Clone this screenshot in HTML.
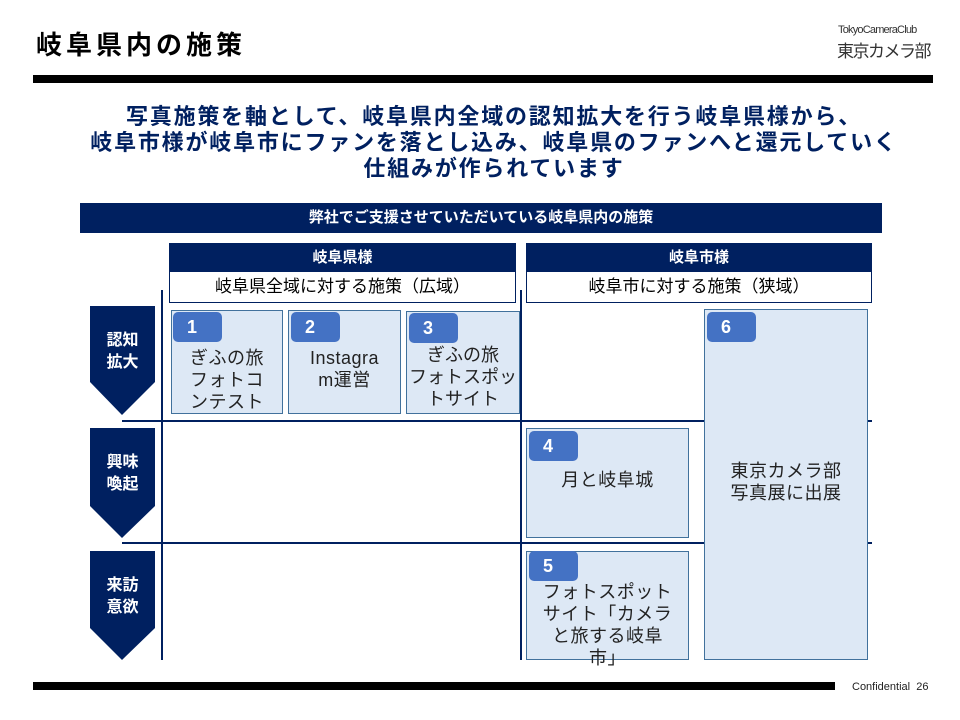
<!DOCTYPE html>
<html><head><meta charset="utf-8"><style>
body{margin:0;width:960px;height:720px;position:relative;background:#fff;font-family:"Liberation Sans","Noto Sans CJK JP",sans-serif;overflow:hidden}
div{position:absolute;box-sizing:border-box}
.nv{background:#002060;color:#fff;font-weight:bold;text-align:center}
.bx{background:#dde8f5;border:1.5px solid #41719c;text-align:center;font-size:18px;color:#222;line-height:22px;letter-spacing:0.5px}
.bd{background:#4472c4;border-radius:5px;color:#fff;font-weight:bold;font-size:18px;width:49px;height:30px;line-height:30px;padding-left:14px;text-align:left}
.ln{background:#002060}
</style></head><body>
<div style="left:36px;top:25px;font-size:26px;font-weight:bold;color:#000;letter-spacing:4px">岐阜県内の施策</div>
<div style="left:838px;top:24px;font-size:11px;color:#333;letter-spacing:-0.8px">TokyoCameraClub</div>
<div style="left:837px;top:37px;font-size:17px;color:#333;letter-spacing:-1.5px">東京カメラ部</div>
<div style="left:33px;top:75px;width:900px;height:8px;background:#000"></div>
<div style="left:0;top:104px;width:988px;text-align:center;font-size:22px;font-weight:bold;color:#002060;line-height:26px;letter-spacing:1.8px">写真施策を軸として、岐阜県内全域の認知拡大を行う岐阜県様から、<br>岐阜市様が岐阜市にファンを落とし込み、岐阜県のファンへと還元していく<br>仕組みが作られています</div>
<div class="nv" style="left:80px;top:203px;width:802px;height:30px;line-height:30px;font-size:15px">弊社でご支援させていただいている岐阜県内の施策</div>
<div class="nv" style="left:169px;top:243px;width:347px;height:29px;line-height:29px;font-size:15px">岐阜県様</div>
<div style="left:169px;top:271px;width:347px;height:32px;border:1.5px solid #002060;text-align:center;line-height:29px;font-size:17px">岐阜県全域に対する施策（広域）</div>
<div class="nv" style="left:526px;top:243px;width:346px;height:29px;line-height:29px;font-size:15px">岐阜市様</div>
<div style="left:526px;top:271px;width:346px;height:32px;border:1.5px solid #002060;text-align:center;line-height:29px;font-size:17px">岐阜市に対する施策（狭域）</div>
<div class="ln" style="left:161px;top:290px;width:2px;height:370px"></div>
<div class="ln" style="left:520px;top:290px;width:2px;height:370px"></div>
<div class="ln" style="left:122px;top:420px;width:750px;height:2px"></div>
<div class="ln" style="left:122px;top:542px;width:750px;height:2px"></div>
<svg style="position:absolute;left:0;top:0" width="960" height="720">
<polygon points="90,306 155,306 155,382 122,415 90,382" fill="#002060"/>
<polygon points="90,428 155,428 155,506 122,538 90,506" fill="#002060"/>
<polygon points="90,551 155,551 155,628 122,660 90,628" fill="#002060"/>
</svg>
<div style="left:90px;top:330px;width:65px;text-align:center;color:#fff;font-weight:bold;font-size:16px;line-height:22px">認知<br>拡大</div>
<div style="left:90px;top:452px;width:65px;text-align:center;color:#fff;font-weight:bold;font-size:16px;line-height:22px">興味<br>喚起</div>
<div style="left:90px;top:575px;width:65px;text-align:center;color:#fff;font-weight:bold;font-size:16px;line-height:22px">来訪<br>意欲</div>
<div class="bx" style="left:171px;top:310px;width:112px;height:104px;padding-top:36px">ぎふの旅<br>フォトコ<br>ンテスト</div>
<div class="bx" style="left:288px;top:310px;width:113px;height:104px;padding-top:36px">Instagra<br>m運営</div>
<div class="bx" style="left:406px;top:311px;width:114px;height:103px;padding-top:32px;letter-spacing:0">ぎふの旅<br>フォトスポッ<br>トサイト</div>
<div class="bx" style="left:526px;top:428px;width:163px;height:110px;padding-top:40px">月と岐阜城</div>
<div class="bx" style="left:526px;top:551px;width:163px;height:109px;padding-top:29px;overflow:visible">フォトスポット<br>サイト「カメラ<br>と旅する岐阜<br>市」</div>
<div class="bx" style="left:704px;top:309px;width:164px;height:351px;padding-top:150px">東京カメラ部<br>写真展に出展</div>
<div class="bd" style="left:173px;top:312px">1</div>
<div class="bd" style="left:291px;top:312px">2</div>
<div class="bd" style="left:409px;top:313px">3</div>
<div class="bd" style="left:529px;top:431px">4</div>
<div class="bd" style="left:529px;top:551px">5</div>
<div class="bd" style="left:707px;top:312px">6</div>
<div style="left:33px;top:682px;width:802px;height:8px;background:#000"></div>
<div style="left:852px;top:681px;font-size:11px;color:#222">Confidential&nbsp; 26</div>
</body></html>
